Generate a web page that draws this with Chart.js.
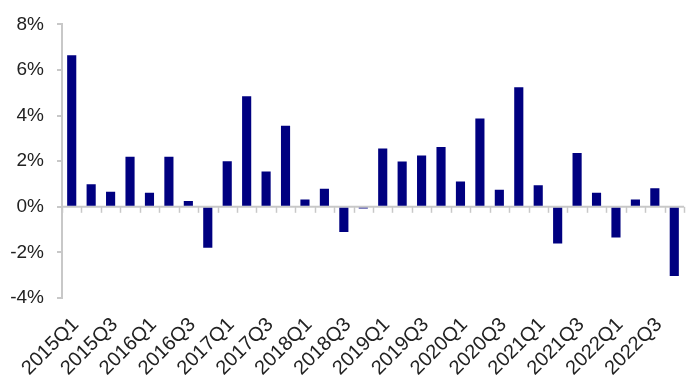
<!DOCTYPE html>
<html>
<head>
<meta charset="utf-8">
<script src="https://cdn.jsdelivr.net/npm/chart.js@4/dist/chart.umd.min.js"></script>
<style>
html,body{margin:0;padding:0;background:#fff;}
#wrap{width:693px;height:390px;position:relative;}
</style>
</head>
<body>
<div id="wrap"><canvas id="c" width="693" height="390"></canvas></div>
<script>
const categories = [
  "2015Q1","2015Q2","2015Q3","2015Q4",
  "2016Q1","2016Q2","2016Q3","2016Q4",
  "2017Q1","2017Q2","2017Q3","2017Q4",
  "2018Q1","2018Q2","2018Q3","2018Q4",
  "2019Q1","2019Q2","2019Q3","2019Q4",
  "2020Q1","2020Q2","2020Q3","2020Q4",
  "2021Q1","2021Q2","2021Q3","2021Q4",
  "2022Q1","2022Q2","2022Q3","2022Q4"
];
const values = [
  6.65, 0.99, 0.66, 2.19,
  0.62, 2.19, 0.25, -1.80,
  2.00, 4.85, 1.55, 3.55,
  0.32, 0.79, -1.10, -0.08,
  2.56, 1.99, 2.25, 2.62,
  1.11, 3.87, 0.75, 5.24,
  0.94, -1.61, 2.36, 0.62,
  -1.35, 0.32, 0.81, -3.04
];
const yTicks = [-4, -2, 0, 2, 4, 6, 8];

const axisGray = '#c8c8c8';

const zeroLinePlugin = {
  id: 'zeroLine',
  beforeDatasetsDraw(chart) {
    const x = chart.scales.x, y = chart.scales.y, ctx = chart.ctx;
    const y0 = y.getPixelForValue(0);
    ctx.save();
    ctx.strokeStyle = axisGray;
    ctx.lineWidth = 2;
    ctx.beginPath();
    ctx.moveTo(chart.chartArea.left, y0);
    ctx.lineTo(chart.chartArea.right, y0);
    ctx.stroke();
    ctx.lineWidth = 1.5;
    for (let i = 0; i <= categories.length; i++) {
      const px = Math.round(x.getPixelForValue(i - 0.5)) + 0.5;
      ctx.beginPath();
      ctx.moveTo(px, y0);
      ctx.lineTo(px, y0 + 6);
      ctx.stroke();
    }
    ctx.restore();
  }
};

new Chart(document.getElementById('c'), {
  type: 'bar',
  data: {
    labels: categories,
    datasets: [{
      data: values,
      backgroundColor: '#000080',
      borderWidth: 0,
      barPercentage: 0.47,
      categoryPercentage: 1.0
    }]
  },
  options: {
    responsive: false,
    animation: false,
    events: [],
    layout: { padding: { top: 19, right: 9, left: 0, bottom: 0 } },
    plugins: { legend: { display: false }, tooltip: { enabled: false } },
    scales: {
      x: {
        position: 'bottom',
        border: { display: false },
        grid: { display: false },
        afterFit(scale) { scale.height = 92; scale.paddingRight = 0; scale.paddingLeft = 0; },
        ticks: {
          autoSkip: false,
          maxRotation: 45,
          minRotation: 45,
          padding: 7,
          labelOffset: 4,
          color: '#222',
          font: { family: 'Liberation Sans, Arial, sans-serif', size: 20 },
          callback(v, i) { return i % 2 === 0 ? categories[i] : ''; }
        }
      },
      y: {
        min: -4,
        max: 8,
        afterFit(scale) { scale.width = 62; },
        afterBuildTicks(scale) { scale.ticks = yTicks.map(v => ({ value: v })); },
        border: { display: true, color: axisGray, width: 2 },
        grid: { drawOnChartArea: false, drawTicks: true, tickLength: 5, color: axisGray, lineWidth: 2 },
        ticks: {
          padding: 13,
          color: '#222',
          font: { family: 'Liberation Sans, Arial, sans-serif', size: 19 },
          callback(v) { return v + '%'; }
        }
      }
    }
  },
  plugins: [zeroLinePlugin]
});
</script>
</body>
</html>
